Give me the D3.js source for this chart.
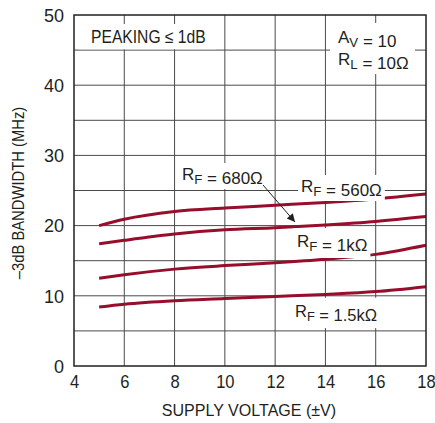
<!DOCTYPE html>
<html>
<head>
<meta charset="utf-8">
<script src="https://cdn.jsdelivr.net/npm/d3@7/dist/d3.min.js"></script>
<style>
  html, body { margin: 0; padding: 0; background: #fff; }
  svg { display: block; }
  text { font-family: "Liberation Sans Narrow", "Arial Narrow", "Liberation Sans", Arial, sans-serif; fill: #231f20; }
</style>
</head>
<body>
<svg id="chart" width="435" height="423"></svg>
<script>
// ---- data ----
const supplyVoltage = [5, 6, 8, 10, 12, 14, 16, 18];
const bwRF560 = [20.0, 20.9, 22.0, 22.5, 22.9, 23.3, 23.8, 24.5];
const bwRF680 = [17.4, 17.9, 18.8, 19.4, 19.7, 20.1, 20.6, 21.3];
const bwRF1k  = [12.5, 13.0, 13.8, 14.3, 14.7, 15.2, 15.9, 17.2];
const bwRF1k5 = [8.4, 8.8, 9.3, 9.6, 9.9, 10.2, 10.6, 11.3];
const seriesList = [bwRF560, bwRF680, bwRF1k, bwRF1k5];
const xTicks = [4, 6, 8, 10, 12, 14, 16, 18];
const yTicks = [0, 10, 20, 30, 40, 50];
const yGrid = [5, 10, 15, 20, 25, 30, 35, 40, 45];
const xTitle = "SUPPLY VOLTAGE (±V)";
const yTitle = "–3dB BANDWIDTH (MHz)";

// ---- layout ----
const svg = d3.select("#chart");
const L = 74, R = 426, T = 15, B = 366;
const x = d3.scaleLinear().domain([4, 18]).range([L, R]);
const y = d3.scaleLinear().domain([0, 50]).range([B, T]);
const gridColor = "#4a4a4a";
const curveColor = "#970e2d";

// grid
const grid = svg.append("g");
grid.selectAll("line.v").data(xTicks.slice(1, -1)).join("line")
  .attr("x1", d => x(d)).attr("x2", d => x(d)).attr("y1", T).attr("y2", B)
  .attr("stroke", gridColor).attr("stroke-width", 1);
grid.selectAll("line.h").data(yGrid).join("line")
  .attr("x1", L).attr("x2", R).attr("y1", d => y(d)).attr("y2", d => y(d))
  .attr("stroke", gridColor).attr("stroke-width", 1);

// curves
const line = d3.line().x((d, i) => x(supplyVoltage[i])).y(d => y(d)).curve(d3.curveMonotoneX);
svg.append("g").selectAll("path").data(seriesList).join("path")
  .attr("d", d => line(d))
  .attr("fill", "none").attr("stroke", curveColor).attr("stroke-width", 3);

// label boxes (mask grid)
const labels = svg.append("g");
function addLabel(parts, xPos, yBase, size, pad, sx) {
  const g = labels.append("g").attr("transform", `translate(${xPos},${yBase}) scale(${sx || 1},1)`);
  const rect = g.append("rect").attr("fill", "#fff");
  const t = g.append("text").attr("x", 0).attr("y", 0).attr("font-size", size);
  parts.forEach(p => {
    if (p.sub) {
      t.append("tspan").attr("dy", 4).attr("font-size", size * 0.78).text(p.sub);
      t.append("tspan").attr("dy", -4).text("");
    } else {
      t.append("tspan").text(p.t);
    }
  });
  if (pad) {
    const bb = t.node().getBBox();
    const s = sx || 1;
    rect.attr("x", bb.x - pad[3] / s).attr("y", bb.y - pad[0])
      .attr("width", bb.width + (pad[1] + pad[3]) / s).attr("height", bb.height + pad[0] + pad[2]);
  }
  return t;
}

// combined box for A_V / R_L
labels.append("rect").attr("x", 330).attr("y", 23).attr("width", 85).attr("height", 51).attr("fill", "#fff");
addLabel([{t: "A"}, {sub: "V"}, {t: " = 10"}], 338, 43, 17, null);
addLabel([{t: "R"}, {sub: "L"}, {t: " = 10Ω"}], 338, 65, 17, null);
addLabel([{t: "PEAKING ≤ 1dB"}], 91, 43, 18, [3, 10, 2, 12], 0.87);
addLabel([{t: "R"}, {sub: "F"}, {t: " = 680Ω"}], 182, 180, 17, [2, 2, 1, 2]);
addLabel([{t: "R"}, {sub: "F"}, {t: " = 560Ω"}], 301, 192, 17, [2, 3, 1, 3]);
addLabel([{t: "R"}, {sub: "F"}, {t: " = 1kΩ"}], 297, 247, 17, [4, 3, 3, 3]);
addLabel([{t: "R"}, {sub: "F"}, {t: " = 1.5kΩ"}], 295, 317, 17, [4, 3, 3, 3], 0.97);

// arrow
svg.append("defs").append("marker").attr("id", "ah")
  .attr("viewBox", "0 0 10 10").attr("refX", 10).attr("refY", 5)
  .attr("markerWidth", 10).attr("markerHeight", 8).attr("markerUnits", "userSpaceOnUse")
  .attr("orient", "auto")
  .append("path").attr("d", "M0,0 L10,5 L0,10 Z").attr("fill", "#231f20");
svg.append("line").attr("x1", 263).attr("y1", 185).attr("x2", 295).attr("y2", 222)
  .attr("stroke", "#231f20").attr("stroke-width", 1).attr("marker-end", "url(#ah)");

// frame
svg.append("rect").attr("x", L).attr("y", T).attr("width", R - L).attr("height", B - T)
  .attr("fill", "none").attr("stroke", "#231f20").attr("stroke-width", 1.5);

// axes (labels only)
const xAxis = svg.append("g").attr("transform", `translate(0,${B + 5})`)
  .call(d3.axisBottom(x).tickValues(xTicks).tickSize(0).tickPadding(4));
const yAxis = svg.append("g").attr("transform", `translate(${L - 10},0)`)
  .call(d3.axisLeft(y).tickValues(yTicks).tickSize(0).tickPadding(0));
[xAxis, yAxis].forEach(a => {
  a.select(".domain").remove();
  a.selectAll("text").attr("font-size", 18).attr("font-family", null).attr("fill", "#231f20");
});
yAxis.selectAll("text").attr("dy", "0.35em");
xAxis.selectAll("text").attr("transform", "scale(0.92,1)");

svg.append("text").attr("transform", `translate(${(L + R) / 2 - 1},416) scale(0.945,1)`)
  .attr("text-anchor", "middle").attr("font-size", 17).text(xTitle);
svg.append("text").attr("transform", `translate(24,193) rotate(-90) scale(0.87,1)`)
  .attr("text-anchor", "middle").attr("font-size", 17).text(yTitle);
</script>
</body>
</html>
